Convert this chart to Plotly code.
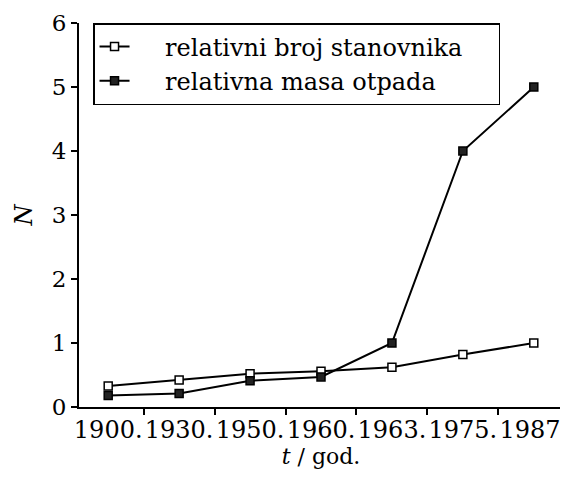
import plotly.graph_objects as go

years = ["1900.", "1930.", "1950.", "1960.", "1963.", "1975.", "1987."]
population = [0.33, 0.42, 0.52, 0.56, 0.62, 0.82, 1.0]
waste = [0.18, 0.21, 0.41, 0.47, 1.0, 4.0, 5.0]
y_ticks = [0, 1, 2, 3, 4, 5, 6]

NB = "\u00a0"
font = "DejaVu Serif"

fig = go.Figure()
fig.add_trace(go.Scatter(
    x=years, y=population, mode="lines+markers",
    name=NB * 4 + "relativni broj stanovnika" + NB * 4,
    line=dict(color="black", width=2),
    marker=dict(symbol="square", size=8, color="white", line=dict(color="black", width=1.5)),
))
fig.add_trace(go.Scatter(
    x=years, y=waste, mode="lines+markers",
    name=NB * 4 + "relativna masa otpada",
    line=dict(color="black", width=2),
    marker=dict(symbol="square", size=8, color="#222222", line=dict(color="black", width=1.5)),
))

fig.update_layout(
    width=560, height=470,
    margin=dict(l=71, r=5, t=15, b=71, autoexpand=False),
    paper_bgcolor="white", plot_bgcolor="white",
    font=dict(family=font, color="black", size=24),
    showlegend=True,
    legend=dict(
        x=0.029, y=1.0, xanchor="left", yanchor="top",
        bgcolor="white", bordercolor="black", borderwidth=1.5,
        font=dict(family=font, size=24, color="black"),
        tracegroupgap=0, itemwidth=30,
    ),
    xaxis=dict(
        type="category", categoryorder="array", categoryarray=years,
        tickson="boundaries", ticks="outside", ticklen=6, tickwidth=1.5, tickcolor="black",
        showline=True, linecolor="black", linewidth=2,
        showgrid=False, zeroline=False, tickangle=0, automargin=False,
        tickfont=dict(family=font, size=24, color="black"),
        title=dict(text="<i>t</i> / god.", font=dict(family=font, size=22), standoff=2),
    ),
    yaxis=dict(
        range=[0, 6], tickvals=y_ticks, automargin=False,
        ticks="outside", ticklen=6, tickwidth=1.5, tickcolor="black",
        showline=True, linecolor="black", linewidth=2,
        showgrid=False, zeroline=False,
        tickfont=dict(family=font, size=23, color="black"),
        title=dict(text="<i>N</i>", font=dict(family=font, size=24), standoff=12),
    ),
)

fig.write_html("out.html")
